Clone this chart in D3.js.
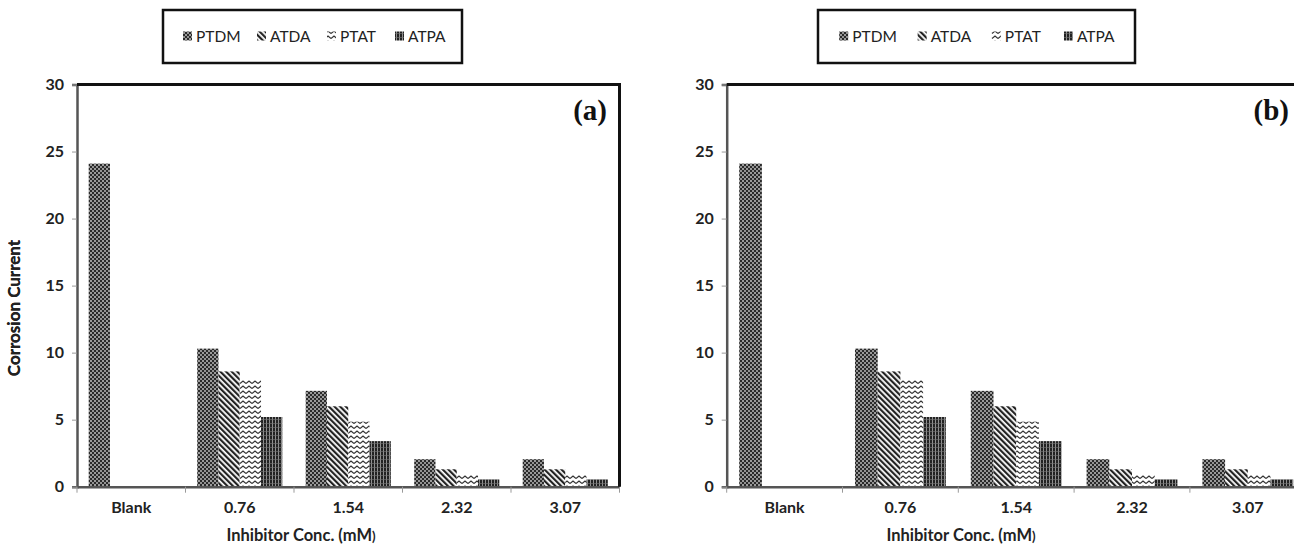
<!DOCTYPE html>
<html lang="en">
<head>
<meta charset="utf-8">
<title>Corrosion Current bar charts</title>
<script src="https://cdnjs.cloudflare.com/ajax/libs/d3/7.7.0/d3.min.js"></script>
<style>
  body { margin: 0; background: #fff; }
  svg { display: block; }
  text { font-family: Lato, "Open Sans", sans-serif; fill: #222; }
  text.tag { font-family: "Liberation Serif", "Times New Roman", serif; fill: #111; }
</style>
</head>
<body>
<div id="chart"></div>
<script>
// data (both panels show the same values)
const categories = ["Blank", "0.76", "1.54", "2.32", "3.07"];
const series = ["PTDM", "ATDA", "PTAT", "ATPA"];
const PTDM = [24.1, 10.3, 7.15, 2.05, 2.05];
const ATDA = [0, 8.6, 6.0, 1.3, 1.3];
const PTAT = [0, 7.95, 4.85, 0.87, 0.87];
const ATPA = [0, 5.2, 3.4, 0.55, 0.55];
const yTicks = [0, 5, 10, 15, 20, 25, 30];
const values = { PTDM, ATDA, PTAT, ATPA };

const w = 1294, h = 547;
const yTop = 84.5, yBot = 486.7;

// layout of the two panels
const panels = [
  { tag: "(a)", x0: 77, catW: 108.5, legX: 163, legW: 299, tagX: 607, titleX: 301 },
  { tag: "(b)", x0: 726.7, catW: 115.8, legX: 818, legW: 317, tagX: 1289, titleX: 961 }
];

const svg = d3.select("#chart").append("svg")
  .attr("width", w).attr("height", h);

// fill patterns
const defs = svg.append("defs");
let p = defs.append("pattern").attr("id", "pat-PTDM")
  .attr("patternUnits", "userSpaceOnUse").attr("width", 4).attr("height", 4);
p.append("rect").attr("width", 4).attr("height", 4).attr("fill", "#7a7a7a");
p.append("rect").attr("x", 0).attr("y", 0).attr("width", 2).attr("height", 2).attr("fill", "#2a2a2a");
p.append("rect").attr("x", 2).attr("y", 2).attr("width", 2).attr("height", 2).attr("fill", "#2a2a2a");
p.append("rect").attr("x", 2.5).attr("y", 0.5).attr("width", 1).attr("height", 1).attr("fill", "#fff");
p.append("rect").attr("x", 0.5).attr("y", 2.5).attr("width", 1).attr("height", 1).attr("fill", "#ddd");

p = defs.append("pattern").attr("id", "pat-ATDA")
  .attr("patternUnits", "userSpaceOnUse").attr("width", 4).attr("height", 4)
  .attr("patternTransform", "rotate(-45)");
p.append("rect").attr("width", 4).attr("height", 4).attr("fill", "#fff");
p.append("rect").attr("width", 2.2).attr("height", 4).attr("fill", "#222");

p = defs.append("pattern").attr("id", "pat-PTAT")
  .attr("patternUnits", "userSpaceOnUse").attr("width", 6).attr("height", 5);
p.append("rect").attr("width", 6).attr("height", 5).attr("fill", "#fff");
p.append("path").attr("d", "M0,3.5 L3,1 L6,3.5").attr("fill", "none")
  .attr("stroke", "#333").attr("stroke-width", 1.2);

p = defs.append("pattern").attr("id", "pat-ATPA")
  .attr("patternUnits", "userSpaceOnUse").attr("width", 3).attr("height", 4);
p.append("rect").attr("width", 3).attr("height", 4).attr("fill", "#222");
p.append("rect").attr("x", 2).attr("width", 0.8).attr("height", 4).attr("fill", "#aaa");
p.append("rect").attr("y", 3).attr("width", 3).attr("height", 0.6).attr("fill", "#777");

const y = d3.scaleLinear().domain([0, 30]).range([yBot, yTop]);

panels.forEach(cfg => {
  const g = svg.append("g");
  const x = d3.scaleBand().domain(categories)
    .range([cfg.x0, cfg.x0 + cfg.catW * categories.length]).padding(0);
  const xs = d3.scaleBand().domain(series)
    .range([0, x.bandwidth()]).paddingOuter(0.55).paddingInner(0);

  // bars
  series.forEach(s => {
    g.selectAll(null).data(categories.map((c, i) => ({ c, v: values[s][i] })))
      .enter().append("rect")
      .attr("x", d => x(d.c) + xs(s))
      .attr("y", d => y(d.v))
      .attr("width", xs.bandwidth())
      .attr("height", d => yBot - y(d.v))
      .attr("fill", "url(#pat-" + s + ")");
  });

  // y axis
  const yAxis = g.append("g")
    .attr("transform", "translate(" + cfg.x0 + ",0)")
    .call(d3.axisLeft(y).tickValues(yTicks).tickSize(5).tickPadding(8));
  yAxis.select(".domain").attr("stroke", "#555").attr("stroke-width", 2.5);
  yAxis.selectAll(".tick line").attr("stroke", "#999");
  yAxis.selectAll(".tick text").attr("font-size", 16).attr("font-weight", "bold");

  // x axis, ticks on the category boundaries
  const right = cfg.x0 + cfg.catW * categories.length;
  const xAxis = g.append("g")
    .attr("transform", "translate(0," + yBot + ")")
    .call(d3.axisBottom(x).tickSize(0).tickPadding(15));
  xAxis.select(".domain").attr("stroke", "#555").attr("stroke-width", 2.5);
  xAxis.selectAll(".tick text").attr("font-size", 16).attr("font-weight", "bold");
  g.selectAll(null).data(d3.range(categories.length + 1)).enter().append("line")
    .attr("x1", i => cfg.x0 + i * cfg.catW).attr("x2", i => cfg.x0 + i * cfg.catW)
    .attr("y1", yBot).attr("y2", yBot + 6)
    .attr("stroke", "#999").attr("stroke-width", 1);

  // frame top and right
  g.append("path")
    .attr("d", "M" + cfg.x0 + "," + yTop + "H" + right + "V" + yBot)
    .attr("fill", "none").attr("stroke", "#111").attr("stroke-width", 3);

  // axis titles
  g.append("text")
    .attr("transform", "translate(20,308) rotate(-90)")
    .attr("text-anchor", "middle").attr("font-size", 17).attr("font-weight", "bold")
    .text("Corrosion Current");
  const xt = g.append("text")
    .attr("x", cfg.titleX).attr("y", 541)
    .attr("text-anchor", "middle").attr("font-size", 16.5).attr("font-weight", "bold");
  xt.append("tspan").text("Inhibitor Conc. (mM");
  xt.append("tspan").attr("font-size", 13).text(")");

  // panel tag
  g.append("text").attr("class", "tag")
    .attr("x", cfg.tagX).attr("y", 120).attr("text-anchor", "end")
    .attr("font-size", 29).attr("font-weight", "bold")
    .text(cfg.tag);

  // legend box
  const k = cfg.legW / 299;
  const leg = g.append("g").attr("transform", "translate(" + cfg.legX + ",10)");
  leg.append("rect").attr("width", cfg.legW).attr("height", 53)
    .attr("fill", "#fff").attr("stroke", "#111").attr("stroke-width", 2.5);
  const offs = [20, 94, 164, 232];
  series.forEach((s, i) => {
    const lx = offs[i] * k;
    leg.append("rect").attr("x", lx).attr("y", 21.5).attr("width", 9).attr("height", 9)
      .attr("fill", "url(#pat-" + s + ")");
    leg.append("text").attr("x", lx + 13).attr("y", 31.5)
      .attr("font-size", 15.5).text(s);
  });
});
</script>
</body>
</html>
